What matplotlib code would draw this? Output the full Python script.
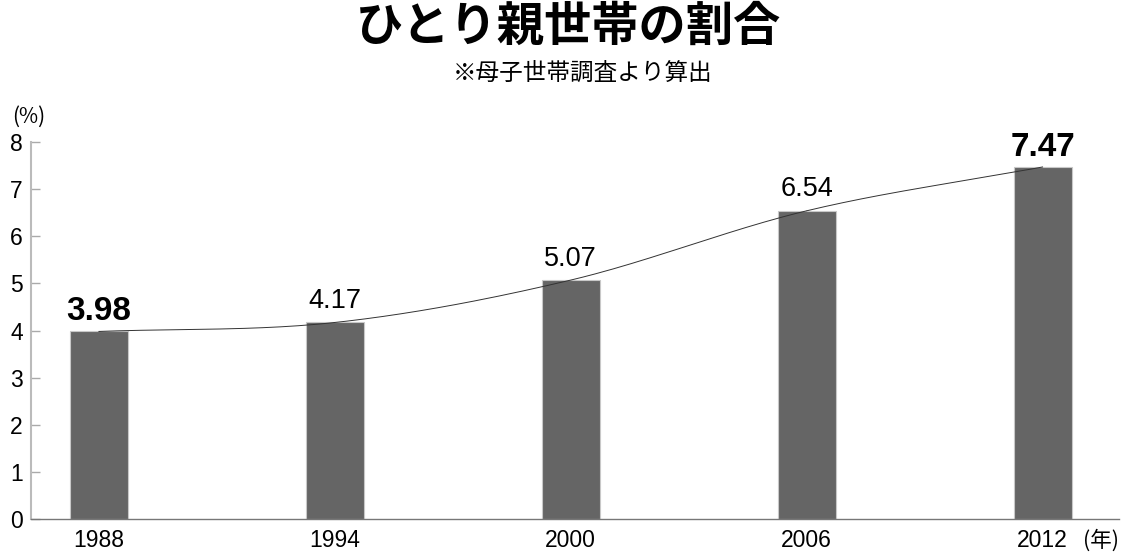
import numpy as np
import matplotlib
matplotlib.use("Agg")
import matplotlib.pyplot as plt

years = ["1988", "1994", "2000", "2006", "2012"]
values = [3.98, 4.17, 5.07, 6.54, 7.47]
bold_labels = [True, False, False, False, True]
yticks = [0, 1, 2, 3, 4, 5, 6, 7, 8]

title = "ひとり親世帯の割合"
subtitle = "※母子世帯調査より算出"

FAM = ["Liberation Sans", "Noto Sans CJK JP", "DejaVu Sans"]
CJK = ["Noto Sans CJK JP", "DejaVu Sans"]
plt.rcParams['font.family'] = FAM

W, H = 1136, 553
fig = plt.figure(figsize=(W / 100, H / 100), dpi=100)
ax = fig.add_axes([31 / W, 34 / H, (1119 - 31) / W, (519 - 142) / H])

x = np.arange(len(values))
ax.bar(x, values, width=0.246, color="#656565", edgecolor="#c8c8c8", linewidth=0.8, zorder=2)

# smooth Catmull-Rom curve through bar tops
pts = np.column_stack([x, values]).astype(float)
ext = np.vstack([2 * pts[0] - pts[1], pts, 2 * pts[-1] - pts[-2]])
cx, cy = [], []
t = np.linspace(0, 1, 40)
for i in range(1, len(ext) - 2):
    p0, p1, p2, p3 = ext[i - 1], ext[i], ext[i + 1], ext[i + 2]
    seg = 0.5 * ((2 * p1)[None, :] + np.outer(t, (-p0 + p2)) +
                 np.outer(t ** 2, (2 * p0 - 5 * p1 + 4 * p2 - p3)) +
                 np.outer(t ** 3, (-p0 + 3 * p1 - 3 * p2 + p3)))
    cx.extend(seg[:, 0]); cy.extend(seg[:, 1])
ax.plot(cx, cy, color="#333333", linewidth=0.7, zorder=3)

for xi, v, b in zip(x, values, bold_labels):
    ax.annotate(f"{v:.2f}", (xi, v), xytext=(0, 3 if b else 6), textcoords="offset points",
                ha="center", va="bottom", fontsize=24 if b else 19.5,
                fontweight="bold" if b else "normal", color="black")

ax.set_xlim(-0.288, 4.324)
ax.set_ylim(0, 8)
ax.set_yticks(yticks)
ax.set_yticklabels([str(v) for v in yticks])
ax.set_xticks(x)
ax.set_xticklabels(years)
ax.tick_params(axis="y", direction="in", length=6.5, width=1.0, color="#aaaaaa",
               labelsize=16.5, pad=6)
ax.tick_params(axis="x", length=0, labelsize=16.5, pad=7)
for s in ["top", "right"]:
    ax.spines[s].set_visible(False)
ax.spines["left"].set_color("#bbbbbb")
ax.spines["left"].set_linewidth(1.5)
ax.spines["bottom"].set_color("#777777")
ax.spines["bottom"].set_linewidth(1.0)

fig.text(12 / W, 1 - 117 / H, "(%)", fontsize=15, ha="left", va="center", family=CJK)
fig.text(1083 / W, 1 - 541 / H, "(年)", fontsize=15.5, ha="left", va="center", family=CJK)

fig.text(568 / W, 1 - 27 / H, title, fontsize=34, fontweight="bold", ha="center", va="center",
         family=CJK)
fig.text(583 / W, 1 - 73 / H, subtitle, fontsize=17, ha="center", va="center", family=CJK)

fig.savefig("out.png", dpi=100)
